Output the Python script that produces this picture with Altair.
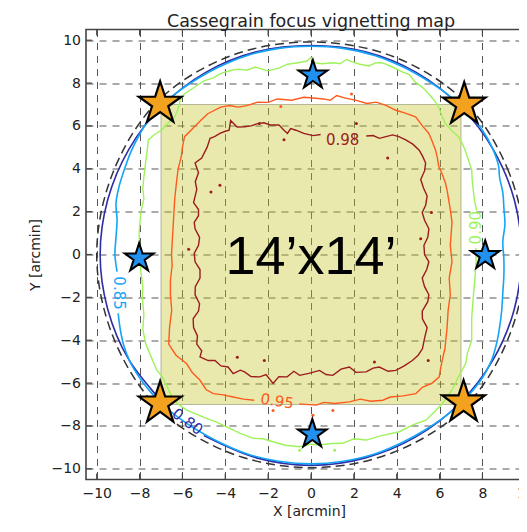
import altair as alt
import pandas as pd

# ---------------- data ----------------
TICKS = [-10, -8, -6, -4, -2, 0, 2, 4, 6, 8, 10]
DOMAIN = [-10.5, 10.5]

LEVELS = ["0.80", "0.85", "0.90", "0.95", "0.98"]
LEVEL_COLORS = ["#2e2ea6", "#14a5f7", "#9ef25a", "#ff5a1e", "#9b1c1c"]

# dashed field-of-view circle
DASH_X = [10.0, 9.24, 7.15, 3.83, 0.0, -3.83, -7.15, -9.24, -10.0, -9.24, -7.15, -3.83, 0.0, 3.83, 7.15, 9.24]
DASH_Y = [0.0, 3.83, 7.15, 9.24, 9.92, 9.24, 7.15, 3.83, 0.0, -3.83, -7.15, -9.24, -9.95, -9.24, -7.15, -3.83]

# 0.80 contour (open where the label sits)
C80_X = [-5.0, -2.54, 0.0, 2.54, 4.91, 6.94, 8.50, 9.49, 9.82, 9.49, 8.50, 6.94, 4.91, 2.54, 0.0,
         -2.54, -4.91, -6.94, -8.50, -9.49, -9.84, -9.49, -8.50, -6.60]
C80_Y = [-8.45, -9.49, -9.84, -9.49, -8.50, -6.94, -4.91, -2.54, 0.0, 2.54, 4.91, 6.94, 8.50, 9.46, 9.75,
         9.46, 8.50, 6.94, 4.91, 2.54, 0.0, -2.54, -4.91, -7.27]

# 0.85 contour
C85_X = [-9.0, -8.9, -8.75, -8.45, -8.0, -7.5, -6.95, -6.2, -5.3, -4.3, -3.0, -1.5, 0.0, 1.5, 3.0, 4.3, 5.3,
         6.2, 6.95, 7.5, 8.0, 8.4, 8.65, 8.8, 8.9, 8.95, 9.0, 9.0, 8.95, 9.05, 9.0, 8.95, 8.8, 8.75, 8.45,
         8.0, 7.5, 6.95, 6.2, 5.3, 4.3, 3.0, 1.5, 0.0, -1.5, -3.0, -4.3, -5.3, -6.2, -6.95, -7.5, -8.0,
         -8.4, -8.7, -8.95, -9.1, -9.05, -9.1, -9.15, -9.05]
C85_Y = [-2.75, -3.5, -4.2, -5.0, -5.75, -6.4, -6.98, -7.6, -8.2, -8.75, -9.3, -9.65, -9.77, -9.65, -9.3,
         -8.75, -8.2, -7.6, -6.98, -6.4, -5.75, -5.0, -4.2, -3.4, -2.6, -1.8, -1.0, -0.2, 0.6, 1.4, 2.2,
         2.9, 3.6, 4.15, 5.0, 5.8, 6.4, 6.98, 7.6, 8.2, 8.75, 9.28, 9.62, 9.72, 9.62, 9.28, 8.75, 8.2,
         7.6, 6.98, 6.4, 5.6, 4.8, 4.0, 3.2, 2.4, 1.6, 0.8, 0.0, -0.8]

# 0.90 contour
C90_X = [7.73, 7.62, 7.57, 7.52, 7.5, 7.35, 7.19, 7.05, 6.88, 6.55, 6.27, 6.1, 5.96, 5.75, 5.5, 5.2, 4.88,
         4.58, 4.2, 3.8, 3.35, 3.04, 2.7, 2.27, 1.9, 1.66, 1.35, 1.05, 0.5, 0.15, 0.0, -0.18, -0.6, -1.1,
         -1.5, -2.03, -2.6, -3.0, -3.41, -3.7, -4.2, -4.56, -5.0, -5.3, -5.6, -5.97, -6.1, -6.2, -6.36,
         -6.7, -6.97, -7.3, -7.59, -7.65, -7.74, -7.8, -7.85, -7.8, -7.94, -8.02, -8.0, -7.94, -7.85,
         -7.87, -7.8, -7.85, -7.71, -7.45, -7.19, -6.94, -6.7, -6.41, -6.1, -5.8, -5.35, -4.87, -4.4,
         -3.94, -3.3, -2.7, -2.25, -1.77, -1.2, -0.53, 0.0, 0.4, 0.95, 1.48, 2.0, 2.57, 3.3, 4.12, 4.75,
         5.36, 5.75, 6.13, 6.6, 6.88, 7.22, 7.3, 7.5, 7.5, 7.5, 7.57, 7.65, 7.7, 7.7]
C90_Y = [2.05, 2.6, 3.04, 3.5, 3.96, 4.4, 4.88, 5.2, 5.5, 5.8, 6.11, 6.5, 6.88, 7.2, 7.49, 7.8, 8.03, 8.4,
         8.55, 8.75, 8.94, 8.95, 8.8, 8.88, 9.0, 9.1, 8.9, 8.95, 8.9, 8.95, 9.2, 9.03, 8.95, 8.88, 8.7,
         8.57, 8.75, 8.6, 8.65, 8.6, 8.45, 8.24, 8.1, 7.9, 7.7, 7.45, 7.2, 6.8, 6.42, 6.1, 5.81, 5.6,
         5.35, 4.8, 4.12, 3.6, 3.1, 2.6, 1.96, 1.04, 0.2, -0.8, -1.5, -2.03, -2.8, -3.5, -4.18, -4.8,
         -5.41, -5.7, -6.2, -6.8, -7.05, -7.26, -7.45, -7.65, -7.82, -8.04, -8.35, -8.58, -8.6, -8.74,
         -8.9, -8.97, -8.85, -8.89, -8.82, -8.81, -8.6, -8.66, -8.45, -8.27, -7.95, -7.73, -7.35, -6.95,
         -6.3, -5.71, -5.09, -4.6, -4.0, -3.5, -2.95, -2.0, -1.1, -0.4, 0.3]

# 0.95 contour
C95_X = [-0.55, 0.24, 0.6, 1.1, 1.79, 2.3, 2.8, 3.35, 3.7, 4.3, 4.89, 5.2, 5.65, 5.98, 6.05, 6.12, 6.25,
         6.35, 6.4, 6.5, 6.45, 6.58, 6.5, 6.58, 6.5, 6.42, 6.35, 6.27, 6.1, 5.96, 5.9, 5.81, 5.65, 5.5,
         5.2, 4.88, 4.4, 3.96, 3.5, 3.04, 2.6, 2.12, 1.6, 1.2, 0.9, 0.58, 0.1, -0.34, -0.9, -1.57, -2.0,
         -2.49, -3.0, -3.41, -3.8, -4.21, -4.82, -5.15, -5.44, -5.9, -6.0, -6.05, -6.2, -6.28, -6.36,
         -6.4, -6.44, -6.51, -6.48, -6.56, -6.56, -6.5, -6.6, -6.64, -6.3, -5.8, -5.55, -5.18, -4.9,
         -4.56, -4.1, -3.63, -3.15, -2.65]
C95_Y = [-6.97, -7.03, -6.9, -6.95, -6.88, -6.75, -6.85, -6.8, -6.65, -6.6, -6.49, -6.2, -6.0, -5.72,
         -5.3, -4.95, -4.4, -3.41, -2.6, -1.88, -1.1, -0.34, 0.43, 1.5, 2.1, 2.58, 3.0, 3.35, 3.8, 4.12,
         4.5, 4.88, 5.3, 5.65, 6.0, 6.42, 6.6, 6.73, 6.96, 7.11, 7.05, 7.19, 7.3, 7.42, 7.2, 7.26, 7.3,
         7.34, 7.2, 7.26, 7.1, 7.11, 6.95, 6.88, 6.95, 6.88, 6.57, 6.25, 5.96, 5.5, 5.0, 4.58, 4.0,
         3.35, 2.58, 1.9, 1.2, 0.0, -0.5, -1.2, -1.88, -2.6, -3.4, -4.18, -4.7, -5.1, -5.5, -5.87,
         -6.3, -6.49, -6.55, -6.65, -6.75, -6.8]

# 0.98 contour
C98_X = [0.45, 0.1, -0.34, -0.7, -0.95, -1.1, -1.26, -1.5, -1.88, -2.2, -2.49, -2.8, -3.1, -3.45, -3.75,
         -3.82, -4.0, -4.25, -4.5, -4.71, -4.85, -5.1, -5.41, -5.25, -5.4, -5.33, -5.48, -5.25, -5.25,
         -5.45, -5.41, -5.2, -5.25, -5.45, -5.41, -5.18, -5.18, -5.4, -5.41, -5.2, -5.25, -5.5, -5.48,
         -5.3, -5.33, -5.1, -5.18, -4.8, -4.48, -4.2, -3.87, -3.63, -3.3, -3.1, -2.8, -2.39, -2.1, -1.77,
         -1.5, -1.11, -0.8, -0.53, -0.1, 0.4, 0.7, 1.02, 1.4, 1.79, 2.1, 2.57, 2.9, 3.19, 3.6, 3.96,
         4.35, 4.73, 5.0, 5.2, 5.3, 5.42, 5.2, 5.19, 5.45, 5.5, 5.3, 5.19, 5.4, 5.5, 5.3, 5.27, 5.45,
         5.5, 5.3, 5.19, 5.35, 5.42, 5.25, 5.12, 5.3, 5.35, 5.2, 5.04, 4.75, 4.42, 4.1, 3.81, 3.5, 3.19,
         2.9, 2.58]
C98_Y = [5.6, 5.55, 5.65, 5.8, 5.88, 5.65, 5.8, 6.05, 6.04, 6.15, 6.11, 6.0, 5.96, 5.95, 6.25, 5.8, 5.75,
         5.65, 5.5, 5.42, 5.0, 4.5, 4.27, 3.81, 3.4, 3.04, 2.42, 2.1, 1.81, 1.5, 1.2, 0.8, 0.43, 0.05,
         -0.34, -0.7, -1.1, -1.5, -1.88, -2.3, -2.64, -3.0, -3.41, -3.8, -4.18, -4.5, -4.78, -4.95, -4.95,
         -5.2, -5.25, -5.56, -5.4, -5.48, -5.7, -5.71, -5.6, -6.02, -5.7, -5.71, -5.45, -5.64, -5.55,
         -5.41, -5.6, -5.64, -5.35, -5.25, -5.5, -5.48, -5.3, -5.25, -5.45, -5.41, -5.2, -4.95, -4.7,
         -4.4, -3.9, -3.41, -3.0, -2.64, -2.2, -1.88, -1.5, -1.1, -0.7, -0.34, 0.0, 0.43, 0.8, 1.2, 1.6,
         1.96, 2.3, 2.73, 3.1, 3.5, 3.9, 4.27, 4.6, 4.88, 5.15, 5.35, 5.5, 5.58, 5.5, 5.42, 5.55, 5.53]

# small isolated contour islands (dots)
DOT_LEVEL = ["0.98"] * 13 + ["0.95"] * 5 + ["0.90"] * 3
DOT_X = [-2.41, 2.12, -1.26, 3.58, -4.25, -4.67, -5.71, 5.62, 5.12, -3.44, -2.18, 2.96, 5.47,
         1.89, -1.41, -1.77, 0.09, 1.02,
         -0.57, -0.53, 1.1]
DOT_Y = [6.11, 6.11, 5.35, 4.5, 3.23, 2.92, 0.24, 1.96, 0.74, -4.79, -4.95, -5.02, -4.95,
         7.49, 6.91, -7.28, -7.5, -7.28,
         8.57, -9.13, -9.13]

# inline contour labels
LABEL_TEXT = ["0.80", "0.85", "0.90", "0.95", "0.98"]
LABEL_X = [-5.76, -8.94, 7.7, -1.58, 1.48]
LABEL_Y = [-7.8, -1.8, 1.25, -6.84, 5.34]
LABEL_ANGLE = [36, 90, 270, 9, 0]

# 14'x14' field
BOX_X, BOX_X2 = [-7.0], [7.0]
BOX_Y, BOX_Y2 = [-7.0], [7.0]
BOX_TEXT = ["14\u2019x14\u2019"]
BOX_TEXT_X, BOX_TEXT_Y = [0.0], [-0.15]

# stars
BIG_STAR_X = [-7.04, 7.15, -7.04, 7.12]
BIG_STAR_Y = [7.04, 7.0, -6.95, -6.9]
SMALL_STAR_X = [0.09, 0.06, -8.02, 8.13]
SMALL_STAR_Y = [8.37, -8.38, -0.17, -0.05]

# ---------------- chart ----------------
W = H = 450
FONT = "DejaVu Sans"
INK = "#222222"
SPINE = "#444444"
STAR = ("M0,-1L0.2245,-0.309L0.9511,-0.309L0.3633,0.118L0.5878,0.809L0,0.382"
        "L-0.5878,0.809L-0.3633,0.118L-0.9511,-0.309L-0.2245,-0.309Z")

SCALE = alt.Scale(domain=DOMAIN, nice=False, zero=False)
AXIS_X = alt.Axis(values=TICKS, title="X [arcmin]", labelPadding=17.5, labelBaseline="alphabetic",
                  titleX=223, titleY=35.5, titleBaseline="alphabetic", titleAlign="center")
AXIS_Y = alt.Axis(values=TICKS, title="Y [arcmin]", labelPadding=5.5, labelBaseline="middle",
                  titleAngle=270, titleX=-47, titleY=H / 2, titleBaseline="alphabetic",
                  titleAlign="center")


def X(f):
    return alt.X(f, type="quantitative", scale=SCALE, axis=AXIS_X)


def Y(f):
    return alt.Y(f, type="quantitative", scale=SCALE, axis=AXIS_Y)


COLOR = alt.Color("level:N", scale=alt.Scale(domain=LEVELS, range=LEVEL_COLORS), legend=None)


def path_df(level, xs, ys):
    return pd.DataFrame({"level": level, "i": list(range(len(xs))), "x": xs, "y": ys})


box = alt.Chart(pd.DataFrame({"x": BOX_X, "x2": BOX_X2, "y": BOX_Y, "y2": BOX_Y2})).mark_rect(
    fill="#c4c42a", fillOpacity=0.38, stroke="#77775a", strokeOpacity=0.5, strokeWidth=1
).encode(x=X("x"), x2="x2", y=Y("y"), y2="y2")

smooth = alt.Chart(pd.concat([path_df("0.80", C80_X, C80_Y), path_df("0.85", C85_X, C85_Y)],
                             ignore_index=True)).mark_line(
    strokeWidth=1.6, interpolate="catmull-rom"
).encode(x=X("x"), y=Y("y"), color=COLOR, detail="level:N", order="i:Q")

noisy = alt.Chart(pd.concat([path_df("0.90", C90_X, C90_Y), path_df("0.95", C95_X, C95_Y),
                             path_df("0.98", C98_X, C98_Y)], ignore_index=True)).mark_line(
    strokeWidth=1.4, interpolate="linear"
).encode(x=X("x"), y=Y("y"), color=COLOR, detail="level:N", order="i:Q")

dots = alt.Chart(pd.DataFrame({"level": DOT_LEVEL, "x": DOT_X, "y": DOT_Y})).mark_point(
    filled=True, size=9, opacity=1, shape="circle"
).encode(x=X("x"), y=Y("y"), color=COLOR)

dashed = alt.Chart(path_df("fov", DASH_X, DASH_Y)).mark_line(
    color="#333333", strokeWidth=1.5, strokeDash=[9, 5], interpolate="cardinal-closed"
).encode(x=X("x"), y=Y("y"), order="i:Q")

labels = alt.Chart(pd.DataFrame({"level": LEVELS, "t": LABEL_TEXT, "x": LABEL_X, "y": LABEL_Y,
                                 "a": LABEL_ANGLE})).mark_text(
    font=FONT, fontSize=15, align="center", baseline="middle"
).encode(x=X("x"), y=Y("y"), text="t:N", color=COLOR, angle=alt.Angle("a:Q", scale=None))

big_text = alt.Chart(pd.DataFrame({"t": BOX_TEXT, "x": BOX_TEXT_X, "y": BOX_TEXT_Y})).mark_text(
    font="Liberation Sans", fontSize=54, color="black", align="center", baseline="middle"
).encode(x=X("x"), y=Y("y"), text="t:N")

big_stars = alt.Chart(pd.DataFrame({"x": BIG_STAR_X, "y": BIG_STAR_Y})).mark_point(
    shape=STAR, filled=True, fill="#f3a21f", stroke="black", strokeWidth=2.2, size=2000, opacity=1
).encode(x=X("x"), y=Y("y"))

small_stars = alt.Chart(pd.DataFrame({"x": SMALL_STAR_X, "y": SMALL_STAR_Y})).mark_point(
    shape=STAR, filled=True, fill="#2290ee", stroke="black", strokeWidth=2, size=920, opacity=1
).encode(x=X("x"), y=Y("y"))

tick_df = pd.DataFrame({"t": TICKS})
ticks_top = alt.Chart(tick_df).mark_rule(color=SPINE, strokeWidth=1.2).encode(
    x=X("t"), y=alt.value(0), y2=alt.value(6))
ticks_bottom = alt.Chart(tick_df).mark_rule(color=SPINE, strokeWidth=1.2).encode(
    x=X("t"), y=alt.value(H), y2=alt.value(H - 6))
ticks_left = alt.Chart(tick_df).mark_rule(color=SPINE, strokeWidth=1.2).encode(
    y=Y("t"), x=alt.value(0), x2=alt.value(6))

chart = alt.layer(
    box, ticks_top, ticks_bottom, ticks_left, dashed, smooth, noisy, dots, labels, big_text,
    big_stars, small_stars
).properties(
    width=W,
    height=H,
    title=alt.TitleParams("Cassegrain focus vignetting map", font=FONT, fontSize=17.5,
                          fontWeight="normal", color=INK, anchor="middle", baseline="alphabetic",
                          offset=5.5, dy=21),
    autosize=alt.AutoSizeParams(type="none"),
    padding={"left": 78, "top": 21.5, "right": -17, "bottom": 39.5},
).configure_view(
    stroke=SPINE, strokeWidth=1.6
).configure_axis(
    labelFont=FONT, titleFont=FONT, labelFontSize=14, titleFontSize=14, titleFontWeight="normal",
    labelColor=INK, titleColor=INK, grid=True, gridColor="#444444", gridDash=[7, 6], gridWidth=1,
    gridOpacity=0.9, domain=False, ticks=False, tickSize=0, labelFlush=False, labelOverlap=False
)

chart.save("out.html", embed_options={"renderer": "svg", "actions": False})
